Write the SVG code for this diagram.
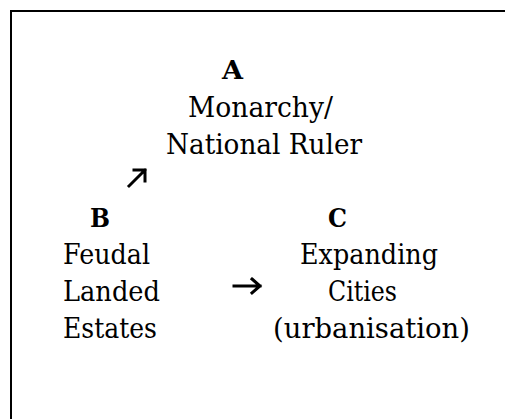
<svg xmlns="http://www.w3.org/2000/svg" width="505" height="419" viewBox="0 0 505 419">
<style>
.t{font-family:"DejaVu Serif","Liberation Serif",serif;font-size:28px;fill:#000}
.b{font-family:"DejaVu Serif","Liberation Serif",serif;font-size:26px;font-weight:bold;fill:#000}
.c{fill:none;stroke:#000;stroke-width:3;stroke-linecap:square}
</style>
<rect x="11" y="11" width="530" height="430" fill="#fff" stroke="#000" stroke-width="2"/>
<g id="nodeA">
<text class="b" x="222" y="79" textLength="21" lengthAdjust="spacingAndGlyphs">A</text>
<text class="t" x="188" y="117" textLength="145" lengthAdjust="spacingAndGlyphs">Monarchy/</text>
<text class="t" x="166" y="154" textLength="196" lengthAdjust="spacingAndGlyphs">National Ruler</text>
</g>
<g id="nodeB">
<text class="b" x="90" y="227" textLength="20" lengthAdjust="spacingAndGlyphs">B</text>
<text class="t" x="63" y="264" textLength="87" lengthAdjust="spacingAndGlyphs">Feudal</text>
<text class="t" x="63" y="301" textLength="97" lengthAdjust="spacingAndGlyphs">Landed</text>
<text class="t" x="63" y="338" textLength="94" lengthAdjust="spacingAndGlyphs">Estates</text>
</g>
<g id="nodeC">
<text class="b" x="328" y="227" textLength="19" lengthAdjust="spacingAndGlyphs">C</text>
<text class="t" x="300" y="264" textLength="138" lengthAdjust="spacingAndGlyphs">Expanding</text>
<text class="t" x="328" y="301" textLength="69" lengthAdjust="spacingAndGlyphs">Cities</text>
<text class="t" x="273" y="338" textLength="197" lengthAdjust="spacingAndGlyphs">(urbanisation)</text>
</g>
<g id="connectors">
<path class="c" d="M129 186 L145 170 M134 170 H145 V181"/>
<path class="c" d="M234 286 H260 M252 279 L260 286 L252 293"/>
</g>
</svg>
